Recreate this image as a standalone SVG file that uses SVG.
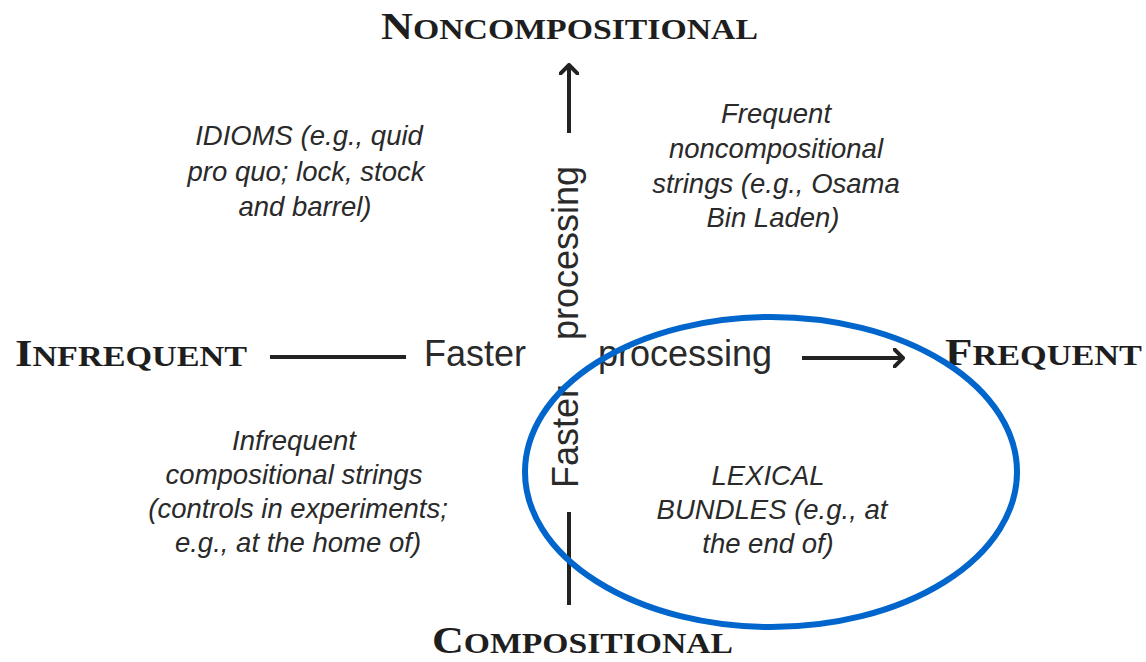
<svg xmlns="http://www.w3.org/2000/svg" width="1146" height="662" viewBox="0 0 1146 662">
<style>
.sc{font-family:"Liberation Serif",serif;font-weight:bold;fill:#1e1e1e}
.big{font-size:38px}
.sm{font-size:29px}
.ax{font-family:"Liberation Sans",Arial,sans-serif;font-size:36px;fill:#2a2a2a}
.it{font-family:"Liberation Sans",Arial,sans-serif;font-size:27.5px;font-style:italic;fill:#2a2a2a;text-anchor:middle}
.ln{stroke:#222;stroke-width:4;fill:none}
</style>
<defs>
<marker id="arr" viewBox="0 0 12 20" refX="10" refY="10" markerWidth="12" markerHeight="20" markerUnits="userSpaceOnUse" orient="auto">
<path d="M1,1 L10,10 L1,19" fill="none" stroke="#222" stroke-width="4" stroke-linecap="round" stroke-linejoin="round"/>
</marker>
</defs>
<g id="connectors">
<line class="ln" x1="270" y1="357" x2="406" y2="357"/>
<line class="ln" x1="802" y1="358" x2="903" y2="358" marker-end="url(#arr)"/>
<line class="ln" x1="569" y1="133" x2="569" y2="65" marker-end="url(#arr)"/>
<line class="ln" x1="569" y1="512" x2="569" y2="605"/>
</g>
<g id="axis-labels">
<text class="sc" x="381" y="39" textLength="377" lengthAdjust="spacingAndGlyphs"><tspan class="big">N</tspan><tspan class="sm">ONCOMPOSITIONAL</tspan></text>
<text class="sc" x="15" y="366" textLength="232" lengthAdjust="spacingAndGlyphs"><tspan class="big">I</tspan><tspan class="sm">NFREQUENT</tspan></text>
<text class="sc" x="945" y="365" textLength="197" lengthAdjust="spacingAndGlyphs"><tspan class="big">F</tspan><tspan class="sm">REQUENT</tspan></text>
<text class="sc" x="432" y="653" textLength="301" lengthAdjust="spacingAndGlyphs"><tspan class="big">C</tspan><tspan class="sm">OMPOSITIONAL</tspan></text>
</g>
<g id="axis-text">
<text class="ax" x="424" y="366">Faster</text>
<text class="ax" x="598" y="366">processing</text>
<text class="ax" transform="translate(578,488) rotate(-90)">Faster</text>
<text class="ax" transform="translate(578,340) rotate(-90)">processing</text>
</g>
<g id="idioms">
<text class="it" x="309" y="145">IDIOMS (e.g., quid</text>
<text class="it" x="306" y="181">pro quo; lock, stock</text>
<text class="it" x="305" y="216">and barrel)</text>
</g>
<g id="frequent-noncomp">
<text class="it" x="776" y="123">Frequent</text>
<text class="it" x="776" y="158">noncompositional</text>
<text class="it" x="776" y="193">strings (e.g., Osama</text>
<text class="it" x="773" y="227">Bin Laden)</text>
</g>
<g id="infrequent-comp">
<text class="it" x="294" y="450">Infrequent</text>
<text class="it" x="294" y="484">compositional strings</text>
<text class="it" x="298" y="518">(controls in experiments;</text>
<text class="it" x="298" y="552">e.g., at the home of)</text>
</g>
<g id="lexical-bundles">
<text class="it" x="768" y="485">LEXICAL</text>
<text class="it" x="772" y="519">BUNDLES (e.g., at</text>
<text class="it" x="768" y="553">the end of)</text>
<ellipse cx="771" cy="472" rx="246" ry="155" fill="none" stroke="#0066cc" stroke-width="6"/>
</g>
</svg>
